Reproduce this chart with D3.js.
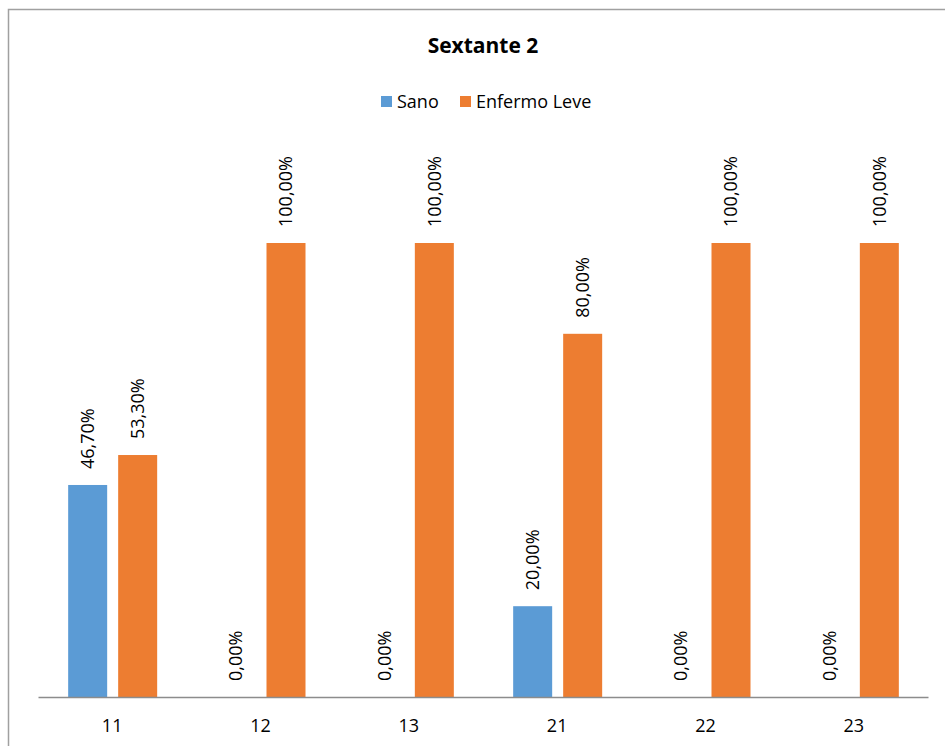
<!DOCTYPE html>
<html>
<head>
<meta charset="utf-8">
<script src="https://cdn.jsdelivr.net/npm/d3@7/dist/d3.min.js"></script>
<style>
  html, body { margin: 0; padding: 0; background: #fff; }
  svg { display: block; font-family: "Open Sans", "Noto Sans", sans-serif; }
</style>
</head>
<body>
<svg id="chart" width="945" height="746"></svg>
<script>
// Data
const categories = ["11", "12", "13", "21", "22", "23"];
const seriesNames = ["Sano", "Enfermo Leve"];
const sano = [0.467, 0.0, 0.0, 0.20, 0.0, 0.0];
const enfermoLeve = [0.533, 1.0, 1.0, 0.80, 1.0, 1.0];
const seriesColors = ["#5B9BD5", "#ED7D31"];
const titleText = "Sextante 2";

const series = [sano, enfermoLeve];
const fmt = v => d3.format(".2f")(v * 100).replace(".", ",") + "%";

const svg = d3.select("#chart");

// Outer frame (left and top edges visible)
svg.append("rect")
  .attr("x", 8.5).attr("y", 9.5)
  .attr("width", 960).attr("height", 760)
  .attr("fill", "none")
  .attr("stroke", "#a0a0a0")
  .attr("stroke-width", 1.5);

// Scales
const x0 = d3.scaleBand().domain(categories).range([38, 928]).paddingInner(0).paddingOuter(0);
const bw = x0.bandwidth();
const x1 = d3.scaleBand().domain(seriesNames)
  .range([bw / 2 - 44, bw / 2 + 45])
  .paddingInner(0.22).paddingOuter(0);
const y = d3.scaleLinear().domain([0, 1]).range([697, 243]);

// Title
svg.append("text")
  .attr("x", 483).attr("y", 53)
  .attr("text-anchor", "middle")
  .attr("font-size", 21).attr("font-weight", "bold")
  .attr("fill", "#000")
  .text(titleText);

// Legend
const legendItems = [
  { name: seriesNames[0], color: seriesColors[0], x: 381 },
  { name: seriesNames[1], color: seriesColors[1], x: 460 }
];
const lg = svg.append("g");
legendItems.forEach(it => {
  lg.append("rect").attr("x", it.x).attr("y", 96).attr("width", 11).attr("height", 11).attr("fill", it.color);
  lg.append("text").attr("x", it.x + 16).attr("y", 107.5)
    .attr("font-size", 18).attr("fill", "#000").text(it.name);
});

// Bars
const groups = svg.append("g").selectAll("g")
  .data(categories)
  .join("g")
  .attr("transform", d => `translate(${x0(d)},0)`);

seriesNames.forEach((name, si) => {
  groups.append("rect")
    .attr("x", x1(name))
    .attr("width", x1.bandwidth())
    .attr("y", (d, i) => y(series[si][i]))
    .attr("height", (d, i) => y(0) - y(series[si][i]))
    .attr("fill", seriesColors[si]);

  groups.append("text")
    .attr("transform", (d, i) => {
      const cx = x1(name) + x1.bandwidth() / 2;
      const ty = y(series[si][i]) - 16;
      return `translate(${cx},${ty}) rotate(-90)`;
    })
    .attr("dy", "0.36em")
    .attr("text-anchor", "start")
    .attr("font-size", 18)
    .attr("fill", "#000")
    .text((d, i) => fmt(series[si][i]));
});

// X axis
const xAxis = svg.append("g")
  .attr("transform", `translate(0,${y(0)})`)
  .call(d3.axisBottom(x0).tickSize(0).tickPadding(22));
xAxis.select(".domain").attr("stroke", "#8c8c8c").attr("stroke-width", 1.5);
xAxis.selectAll("text").attr("font-size", 18).attr("fill", "#000")
  .attr("font-family", "\"Open Sans\", \"Noto Sans\", sans-serif");
</script>
</body>
</html>
